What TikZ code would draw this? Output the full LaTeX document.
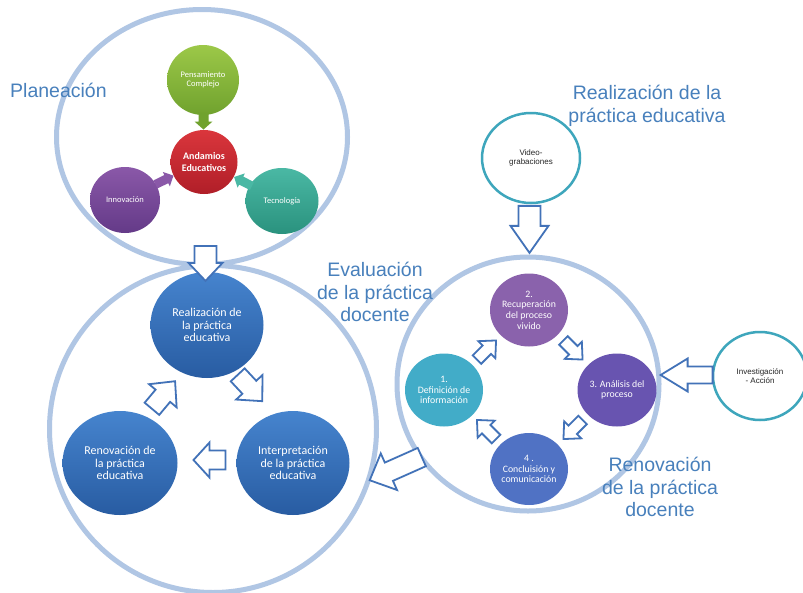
\documentclass[tikz,border=0pt]{standalone}
\usepackage{fontspec}
\setmainfont{Liberation Sans}
\newfontfamily\calfont{Carlito}
\usetikzlibrary{shapes.geometric,calc}
\definecolor{ringc}{RGB}{176,198,228}
\definecolor{titlec}{RGB}{72,128,188}
\definecolor{arrc}{RGB}{66,114,184}
\definecolor{tealo}{RGB}{62,166,188}
\definecolor{blueT}{RGB}{70,132,206}
\definecolor{blueB}{RGB}{40,92,162}
\definecolor{greenT}{RGB}{156,200,72}
\definecolor{greenB}{RGB}{112,162,46}
\definecolor{redT}{RGB}{218,54,60}
\definecolor{redB}{RGB}{176,30,40}
\definecolor{purT}{RGB}{138,88,168}
\definecolor{purB}{RGB}{100,58,136}
\definecolor{tealT}{RGB}{74,184,164}
\definecolor{tealB}{RGB}{42,146,126}
\definecolor{pur2}{RGB}{138,98,172}
\definecolor{pur3}{RGB}{104,84,176}
\definecolor{cyan1}{RGB}{66,172,200}
\definecolor{blue4}{RGB}{80,114,196}
\tikzset{
  ring/.style={ellipse, draw=ringc, line width=5pt, inner sep=0pt},
  ball/.style={ellipse, inner sep=0pt, text=white, align=center},
  bigtxt/.style={font=\calfont\fontsize{12}{12.8}\selectfont},
  midtxt/.style={font=\calfont\fontsize{9.8}{10.6}\selectfont},
  smalltxt/.style={font=\calfont\fontsize{8.5}{9.5}\selectfont},
  tealring/.style={ellipse, draw=tealo, line width=2.5pt, inner sep=0pt, align=center,
    font=\fontsize{8}{9.2}\selectfont, text=black!85},
  title/.style={text=titlec, align=center, font=\fontsize{19.5}{22.5}\selectfont, inner sep=0pt},
  outl/.style={draw=arrc, line width=1.8pt, fill=white, line join=miter},
  pics/barrow/.style args={#1/#2/#3/#4/#5}{code={
    \path[#5] (-#1/2,-#2/2) -- ({#1/2-#4},-#2/2) -- ({#1/2-#4},-#3/2) -- (#1/2,0)
      -- ({#1/2-#4},#3/2) -- ({#1/2-#4},#2/2) -- (-#1/2,#2/2) -- cycle;
  }}
}
\begin{document}
\begin{tikzpicture}[x=1pt,y=-1pt]
\useasboundingbox[fill=white] (0,0) rectangle (803,592);
% big rings
\node[ring, minimum width=291, minimum height=255] (P) at (202,137) {};
\node[ring, minimum width=327, minimum height=327] (L) at (213,429) {};
\node[ring, minimum width=262, minimum height=254] (R) at (528,384) {};
% planeacion nodes
\node[ball, smalltxt, minimum width=72, minimum height=70, top color=greenT, bottom color=greenB] (pen) at (203,80) {Pensamiento\\Complejo};
\node[ball, font=\calfont\bfseries\fontsize{10}{11.5}\selectfont, minimum width=67, minimum height=64, top color=redT, bottom color=redB] (and) at (204,162) {Andamios\\Educativos};
\node[ball, smalltxt, minimum width=70, minimum height=66, top color=purT, bottom color=purB] (inn) at (125,200) {Innovación};
\node[ball, smalltxt, minimum width=73, minimum height=66, top color=tealT, bottom color=tealB] (tec) at (282,201) {Tecnología};
% evaluation cycle
\node[ball, bigtxt, minimum width=113, minimum height=106, top color=blueT, bottom color=blueB] (rea) at (207,325) {Realización de\\la práctica\\educativa};
\node[ball, bigtxt, minimum width=115, minimum height=104, top color=blueT, bottom color=blueB] (ren) at (120,463) {Renovación de\\la práctica\\educativa};
\node[ball, bigtxt, minimum width=113, minimum height=104, top color=blueT, bottom color=blueB] (int) at (293,463) {Interpretación\\de la práctica\\educativa};
% right cycle
\node[ball, midtxt, minimum width=78, minimum height=73, fill=pur2] (n2) at (529,310) {2.\\Recuperación\\del proceso\\vivido};
\node[ball, midtxt, minimum width=79, minimum height=73, fill=pur3] (n3) at (617,390) {3. Análisis del\\proceso};
\node[ball, midtxt, minimum width=78, minimum height=73, fill=cyan1] (n1) at (444,390) {1.\\Definición de\\información};
\node[ball, midtxt, minimum width=78, minimum height=72, fill=blue4] (n4) at (529,469) {4 .\\Concluisión y\\comunicación};
% outer teal rings
\node[tealring, minimum width=98, minimum height=90] (vid) at (531,158) {Video-\\grabaciones};
\node[tealring, minimum width=94, minimum height=88] (inv) at (760,376) {Investigación\\- Acción};
% titles
\node[title, anchor=west] (tplan) at (10,90) {Planeación};
\node[title] (treal) at (647,106) {Realización de la\\práctica educativa};
\node[title] (teval) at (375,292) {Evaluación\\de la práctica\\docente};
\node[title] (treno) at (660,487) {Renovación\\de la práctica\\docente};
% filled arrows in planeacion
\pic[rotate=-90] at ($(pen)!0.5!(and)$) {barrow=17/10/18/8/{fill=greenB}};
\pic[rotate=26] at ($(inn)!0.5!(and)+(0,-1)$) {barrow=20/9/16/8/{fill=purT}};
\pic[rotate=153] at ($(tec)!0.5!(and)$) {barrow=20/9/16/8/{fill=tealT}};
% outline block arrows
\pic[rotate=-90] at ($(P.south)!0.5!(rea.north)+(1,-6)$) {barrow=35/22/34/18/outl};
\pic[rotate=-47] at ($(rea)!0.5!(int)+(0,-6)$) {barrow=36/19/36/19/outl};
\pic[rotate=180] at ($(int)!0.5!(ren)+(3,-3)$) {barrow=32/19/35/16/outl};
\pic[rotate=50] at ($(ren)!0.5!(rea)+(0,1)$) {barrow=36/19/36/19/outl};
\pic[rotate=-156] at ($(R.-145)!0.5!(L.-17)$) {barrow=57/20/40/21/outl};
\pic[rotate=-90] at ($(vid.south)!0.5!(R.north)$) {barrow=47/22/38/27/outl};
\pic[rotate=180] at ($(inv.west)!0.5!(R.east)+(0,-5)$) {barrow=52/17/33/27/outl};
\pic[rotate=45] at ($(n1)!0.5!(n2)$) {barrow=27/12/24/13/outl};
\pic[rotate=-45] at ($(n2)!0.5!(n3)$) {barrow=27/12/24/13/outl};
\pic[rotate=-135] at ($(n3)!0.5!(n4)$) {barrow=27/12/24/13/outl};
\pic[rotate=135] at ($(n4)!0.5!(n1)$) {barrow=27/12/24/13/outl};
\end{tikzpicture}
\end{document}
